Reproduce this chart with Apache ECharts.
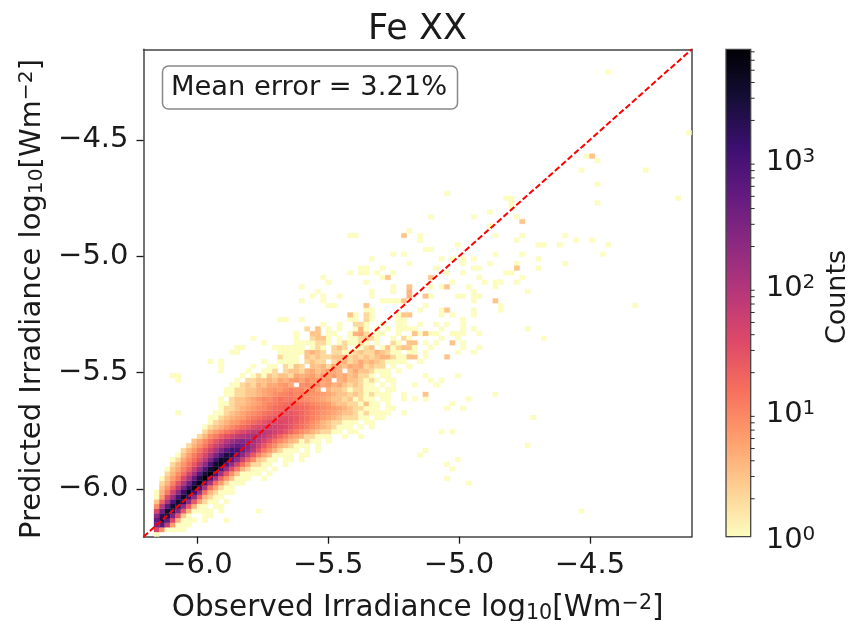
<!DOCTYPE html>
<html><head><meta charset="utf-8">
<style>html,body{margin:0;padding:0;background:#fff}#c{width:851px;height:621px}</style>
<script src="https://cdn.jsdelivr.net/npm/echarts@6/dist/echarts.min.js"></script>
</head><body><div id="c"></div>
<script>
const chartTitle = 'Fe XX';
const annotation = 'Mean error = 3.21%';
const axisLimits = [-6.2059, -4.1109];
const xTicks = [-6, -5.5, -5, -4.5];
const yTicks = [-6, -5.5, -5, -4.5];
const diagonal = [[-6.2059, -6.2059], [-4.1109, -4.1109]];
const colorbarRange = [1, 7330];
const colorbarMajor = [1, 10, 100, 1000];
const colorbarMinor = [2,3,4,5,6,7,8,9,20,30,40,50,60,70,80,90,200,300,400,500,600,700,800,900,2000,3000,4000,5000,6000,7000];
const magmaStops = ['#fcfdbf','#fecf92','#fe9f6d','#f7705c','#de4968','#b73779','#8c2981','#641a80','#3b0f70','#140e36','#000004'];
const xBinStart = -6.1658, xBinWidth = 0.020547;
const yBinStart = -6.2059, yBinWidth = 0.020073;

// dense rows: first column index of each row (row index = position)
const rowStart = [0,0,0,0,0,0,0,0,0,0,1,1,1,2,2,3,3,4,5,6,7,8,9,9,10,10,11,12,12,12,13,13,14,15,16,17,18,20,23,23,22,20,26,26,28];
const rowCounts = [
[1],
[40,8,1,1,1,1],
[300,600,60,6,1,1,1],
[500,2500,500,40,4,1,1,1,0,1],
[200,1800,2500,300,30,3,1,0,0,1,1],
[40,400,3000,2000,250,25,4,1,1,1,1],
[8,80,600,3200,1800,200,25,4,1,1,0,1],
[3,20,100,800,3500,1600,200,25,5,2,1,1,0,1],
[1,6,35,150,1000,4000,1400,180,20,4,2,1,1],
[1,4,12,50,220,1200,4500,1200,150,15,4,2,1,1,1],
[3,7,20,70,300,1500,5000,1000,120,14,5,2,1,1],
[2,4,10,28,90,400,1900,5500,900,110,15,6,2,1,1,1],
[1,3,6,12,35,110,500,2300,6500,900,110,20,7,3,1,1,1,0,0,1],
[2,4,8,16,45,140,600,2800,6500,800,130,25,8,3,1,1,1,1,0,1],
[1,3,5,10,20,55,170,750,3200,6000,800,150,35,12,4,2,1,1,1,0,1],
[2,4,7,13,25,65,200,900,3800,5000,700,180,45,15,6,2,2,1,1,0,0,1],
[1,2,5,9,16,30,80,260,1100,3800,3800,650,200,55,18,8,3,2,1,1,0,1,1,0,1],
[1,3,6,11,20,40,100,300,900,2500,2000,600,200,70,25,10,5,3,1,1,1,1,0,1,1],
[2,4,7,13,25,50,110,260,600,1100,1000,450,200,80,30,13,7,4,2,1,1,1,0,1,0,1],
[2,4,7,13,25,50,90,170,330,480,380,220,110,50,25,13,8,4,3,2,1,1,1,0,1],
[3,5,9,15,26,45,85,140,200,240,190,130,80,45,26,15,9,6,4,3,1,2,1,1,0,1],
[2,4,8,12,20,30,45,65,90,115,120,100,70,45,30,18,11,7,5,4,2,2,1,1,1,0,0,1,0,0,1],
[2,4,6,9,13,18,26,36,50,65,75,75,65,50,38,26,18,12,8,6,4,3,2,2,1,1,0,1,1],
[1,2,3,4,6,9,12,16,22,30,38,46,52,50,42,34,26,18,14,10,7,5,4,3,2,1,1,1,0,1,0,1],
[1,2,3,4,6,7,10,13,17,22,28,34,38,38,34,28,22,16,12,8,6,4,3,2,2,1,1,1,0,1,1],
[1,1,2,3,4,5,6,9,11,14,18,22,26,30,32,28,24,18,14,10,8,6,5,4,3,2,2,2,1,1,0,1,1],
[1,1,2,3,4,5,7,8,10,13,15,18,22,24,26,22,18,14,11,9,7,6,5,4,3,3,2,1,2,1,1,1,1],
[1,2,2,3,4,5,6,8,9,12,15,17,20,22,20,18,15,12,10,8,7,6,5,4,3,2,2,1,1,1,0,1,1],
[1,1,2,3,3,4,5,6,8,10,12,14,16,18,15,13,12,9,8,7,6,4,3,3,2,2,1,3,1,1,0,1],
[1,0,2,3,3,4,5,7,9,8,11,14,12,13,11,9,8,7,6,5,4,3,3,2,3,1,2,1,1,0,1,1],
[1,1,2,2,3,3,4,5,6,8,9,10,12,9,11,8,7,7,6,5,4,3,3,2,3,2,1,2,1,1,1],
[1,1,2,2,3,3,4,5,6,7,6,8,10,8,9,7,8,5,0,4,3,3,2,1,2,2,1,1,1,0,1,1],
[1,1,2,3,2,4,3,5,5,6,7,5,0,8,9,7,8,5,6,4,5,3,2,3,2,1,1,0,1,0,1],
[1,0,2,2,3,3,4,3,5,4,6,7,5,8,6,7,5,6,0,4,5,3,3,2,1,2,1,0,1,1],
[1,0,1,2,1,3,2,3,3,2,5,4,5,6,4,7,5,6,4,5,3,4,2,2,1,0,1,1],
[1,0,0,1,1,2,0,2,3,3,2,4,5,3,4,6,5,4,0,3,5,3,3,2,1,1,1,0,1],
[1,0,0,1,1,0,2,1,3,2,0,3,3,4,2,5,4,3,5,4,5,2,3,2,2,0,1,0,0,1],
[1,0,0,1,1,1,1,0,2,3,2,2,0,2,3,4,2,3,5,3,4,3,2,1,1,1,1,0,0,1],
[2,1,1,1,0,3,2,3,2,2,3,3,4,2,3,2,3,2,3,4,4,2,1,1,0,3,0,1],
[1,1,1,1,1,3,4,3,2,0,2,2,1,1,2,3,2,2,4,3,2,1,1,0,1,1,0,1],
[1,1,1,1,1,1,0,1,2,1,0,2,3,2,0,1,1,2,3,0,1,3,1,2,0,3,1,0,0,1],
[1,0,0,0,0,0,1,1,1,1,2,2,1,0,1,2,1,1,2,1,0,1,0,0,2,1,0,1,3],
[1,0,0,2,3,3,1,0,1,0,1,1,2,3,2,1,0,0,1,0,2,1],
[1,0,0,3,3,0,1,1,0,0,1,4,5,2,0,1,1,0,0,1],
[2,0,3,0,1,0,1,0,0,1,4,1,0,1,0,1,0,1]
];
// sparse cells outside the dense rows: [column, row] hold one count
const singleCells = [
[4,26],[3,34],[4,34],[4,33],[10,37],[12,37],[12,36],[12,35],[14,39],[15,39],[15,40],[16,40],[18,42],
[13,3],[12,5],[12,6],[19,5],[79,5],[58,11],[54,12],[55,14],[54,15],[56,16],[49,17],[50,18],[69,19],[53,22],[55,22],[70,25],[46,26],[54,27],[57,27],[55,28],[46,29],[48,29],[50,29],[58,29],[46,30],[63,30],[48,32],[52,32],[51,33],[53,33],[50,34],[56,34],[47,36],
[56,39],[59,39],[48,40],[57,40],[60,40],
[50,41],[52,41],[57,41],
[53,42],[56,42],[72,42],
[49,43],[51,43],[52,43],[55,43],[56,43],[57,43],[60,43],
[47,44],[48,44],[53,44],[59,44],[69,44],[45,44],[46,44],[57,44],
[46,45],[49,45],[52,45],[54,45],[57,45],[31,45],[34,45],[39,45],[42,45],[45,45],
[46,46],[57,46],[23,46],[24,46],[27,46],[36,46],[37,46],[40,46],[45,46],
[53,47],[55,47],[59,47],[37,47],[40,47],[45,47],
[49,48],[53,48],[59,48],[64,48],[39,48],[40,48],
[50,49],[64,49],[89,49],[32,49],[33,49],
[59,50],[27,50],[31,50],[42,50],[43,50],[44,50],[45,50],
[51,51],[56,51],[57,51],[59,51],[60,51],[29,51],[31,51],[34,51],[40,51],
[59,52],[69,52],[30,52],[40,52],[44,52],
[51,53],[53,53],[58,53],[63,53],[27,53],[44,53],
[55,54],[61,54],[63,54],[64,54],[67,54],[32,54],[39,54],
[60,55],[68,55],[31,55],[42,55],
[54,56],[57,56],[65,56],[66,56],[36,56],[38,56],[39,56],[41,56],[44,56],
[52,57],[59,57],[60,57],[71,57],[38,57],[39,57],[42,57],
[47,58],[57,58],[62,58],[67,58],[76,58],
[53,59],[55,59],[57,59],[59,59],[71,59],[40,59],
[46,60],[63,60],[68,60],[83,60],[44,60],
[50,61],[51,61],[56,62],[71,62],[72,62],[75,62],[84,62],
[67,63],[78,63],[81,63],[49,63],[63,64],[68,64],[76,64],[36,64],[37,64],[49,64],
[47,65],[62,66],[67,68],[51,68],[59,68],[62,69],[66,70],[66,71],[82,71],[65,72],[66,72],[97,72],[54,73],
[82,75],[79,78],[91,78],[82,80],[80,81],[99,86],[84,99]
];
// sparse cells with more than one count: [column, row, count]
const warmCells = [
[50,30,3],[47,38,3],[54,38,3],[46,40,3],[47,41,3],[55,41,3],
[48,43,3],[50,43,3],
[37,45,2],[38,45,2],[39,46,2],
[36,47,3],[39,47,2],[46,47,3],[47,47,3],[54,48,3],[39,49,3],
[46,50,3],[63,50,3],[47,51,4],[50,51,3],[47,52,4],[43,55,3],[47,53,3],[54,53,3],
[51,55,3],[67,57,3],[46,64,3],[68,67,3],[81,81,3]
];

function magma(t) {
  t = Math.min(1, Math.max(0, t)) * (magmaStops.length - 1);
  const k = Math.min(magmaStops.length - 2, Math.floor(t)), f = t - k;
  const a = echarts.color.parse(magmaStops[k]), b = echarts.color.parse(magmaStops[k + 1]);
  return 'rgb(' + [0, 1, 2].map(c => Math.round(a[c] + (b[c] - a[c]) * f)).join(',') + ')';
}
const cells = [];
rowCounts.forEach((row, j) => row.forEach((c, n) => { if (c > 0) cells.push([rowStart[j] + n, j, c]); }));
singleCells.forEach(p => cells.push([p[0], p[1], 1]));
warmCells.forEach(p => cells.push(p));
const cellData = cells.map(p => [xBinStart + p[0] * xBinWidth, yBinStart + p[1] * yBinWidth, p[2]]);

const FONT = 'DejaVu Sans';
const INK = '#1a1a1a';
const FRAME = '#444';
function labelRich(size) {
  return {
    base: {fontFamily: FONT, fontSize: size, color: INK},
    sub: {fontFamily: FONT, fontSize: size * 0.7, color: INK, verticalAlign: 'bottom', padding: [7, 0, 0, 0]},
    sup: {fontFamily: FONT, fontSize: size * 0.7, color: INK, verticalAlign: 'top', padding: [0, 0, 10, 0]}
  };
}
const axisName = t => `{base|${t} log}{sub|10}{base|[Wm}{sup|−2}{base|]}`;
const tickFmt = v => v.toFixed(1).replace('-', '−');

const chart = echarts.init(document.getElementById('c'), null, {renderer: 'canvas'});
chart.setOption({
  animation: false,
  backgroundColor: '#fff',
  title: {text: chartTitle, left: 412.5, top: 7, textAlign: 'center',
    textStyle: {fontFamily: FONT, fontSize: 35, fontWeight: 'normal', color: INK}},
  grid: [
    {left: 143.5, top: 49.3, width: 548.2, height: 487.4, show: false, outerBoundsMode: 'none'},
    {left: 726, top: 49.3, width: 24.7, height: 487.4, show: false, outerBoundsMode: 'none'}
  ],
  xAxis: [
    {type: 'value', gridIndex: 0, min: axisLimits[0], max: axisLimits[1], position: 'bottom',
      name: axisName('Observed Irradiance'), nameLocation: 'middle', nameGap: 56, nameTextStyle: {rich: labelRich(29.5)},
      splitLine: {show: false},
      axisLine: {lineStyle: {color: FRAME, width: 1.5}, onZero: false},
      axisTick: {length: 7, lineStyle: {color: INK, width: 1.3}, customValues: xTicks},
      axisLabel: {customValues: xTicks, formatter: tickFmt, fontFamily: FONT, fontSize: 29, color: INK, margin: 14}},
    {type: 'value', gridIndex: 0, min: axisLimits[0], max: axisLimits[1], position: 'top',
      axisLine: {lineStyle: {color: FRAME, width: 1.5}, onZero: false},
      axisTick: {show: false}, axisLabel: {show: false}, splitLine: {show: false}},
    {type: 'value', gridIndex: 1, min: 0, max: 1, axisLine: {show: false}, axisTick: {show: false}, axisLabel: {show: false}, splitLine: {show: false}}
  ],
  yAxis: [
    {type: 'value', gridIndex: 0, min: axisLimits[0], max: axisLimits[1], position: 'left',
      name: axisName('Predicted Irradiance'), nameLocation: 'middle', nameRotate: 90, nameGap: 94,
      nameTextStyle: {rich: labelRich(29), padding: [0, 12, 0, 0]},
      splitLine: {show: false},
      axisLine: {lineStyle: {color: FRAME, width: 1.5}, onZero: false},
      axisTick: {length: 7, lineStyle: {color: INK, width: 1.3}, customValues: yTicks},
      axisLabel: {customValues: yTicks, formatter: tickFmt, fontFamily: FONT, fontSize: 29, color: INK, margin: 15, padding: [5, 0, 0, 0]}},
    {type: 'value', gridIndex: 0, min: axisLimits[0], max: axisLimits[1], position: 'right',
      axisLine: {lineStyle: {color: FRAME, width: 1.5}, onZero: false},
      axisTick: {show: false}, axisLabel: {show: false}, splitLine: {show: false}},
    {type: 'log', gridIndex: 1, logBase: 10, min: colorbarRange[0], max: colorbarRange[1], position: 'right',
      name: 'Counts', nameLocation: 'middle', nameRotate: 90, nameGap: 74,
      nameTextStyle: {fontFamily: FONT, fontSize: 27, color: INK, padding: [0, 8, 0, 0]},
      splitLine: {show: false}, minorTick: {show: false},
      axisLine: {show: false},
      axisTick: {length: 7, lineStyle: {color: INK, width: 1.2}, customValues: colorbarMajor},
      axisLabel: {customValues: colorbarMajor, margin: 15, padding: [8, 0, 0, 0],
        formatter: v => `{base|10}{sup|${Math.round(Math.log10(v))}}`,
        rich: {base: {fontFamily: FONT, fontSize: 29, color: INK},
               sup: {fontFamily: FONT, fontSize: 20, color: INK, verticalAlign: 'top', padding: [0, 0, 12, 0]}}}}
  ],
  series: [
    {type: 'custom', xAxisIndex: 0, yAxisIndex: 0, data: cellData, z: 2, clip: true,
      encode: {x: 0, y: 1},
      renderItem(params, api) {
        const x = api.value(0), y = api.value(1), c = api.value(2);
        const p0 = api.coord([x, y]), p1 = api.coord([x + xBinWidth, y + yBinWidth]);
        const col = magma(Math.log(c) / Math.log(colorbarRange[1]));
        return {type: 'rect', shape: {x: p0[0], y: p1[1], width: p1[0] - p0[0], height: p0[1] - p1[1]},
          style: {fill: col, stroke: col, lineWidth: 0.3}};
      }},
    {type: 'line', xAxisIndex: 0, yAxisIndex: 0, data: diagonal, symbol: 'none', z: 5, silent: true,
      lineStyle: {color: '#ff0000', width: 2, type: [6, 2.6]}},
    {type: 'custom', xAxisIndex: 2, yAxisIndex: 2, data: [[0, colorbarRange[0]]], z: 2,
      encode: {x: 0, y: 1},
      renderItem(params, api) {
        const p0 = api.coord([0, colorbarRange[0]]), p1 = api.coord([1, colorbarRange[1]]);
        const stops = magmaStops.map((c, i) => ({offset: 1 - i / (magmaStops.length - 1), color: c}));
        return {type: 'rect', shape: {x: p0[0], y: p1[1], width: p1[0] - p0[0], height: p0[1] - p1[1]},
          style: {fill: new echarts.graphic.LinearGradient(0, 0, 0, 1, stops), stroke: FRAME, lineWidth: 1.3}};
      }},
    {type: 'custom', xAxisIndex: 2, yAxisIndex: 2, data: colorbarMinor.map(v => [1, v]), z: 3,
      encode: {x: 0, y: 1},
      renderItem(params, api) {
        const p = api.coord([1, api.value(1)]);
        return {type: 'line', shape: {x1: p[0], y1: p[1], x2: p[0] + 4, y2: p[1]}, style: {stroke: INK, lineWidth: 0.9}};
      }}
  ],
  graphic: [
    {type: 'rect', z: 20, shape: {x: 162.5, y: 66, width: 295, height: 43, r: 6},
      style: {fill: '#fff', stroke: '#888', lineWidth: 1.5}},
    {type: 'text', z: 21, x: 171, y: 87.5, style: {text: annotation, fontFamily: FONT, fontSize: 27.3, fill: INK, textVerticalAlign: 'middle'}}
  ]
});
</script></body></html>
